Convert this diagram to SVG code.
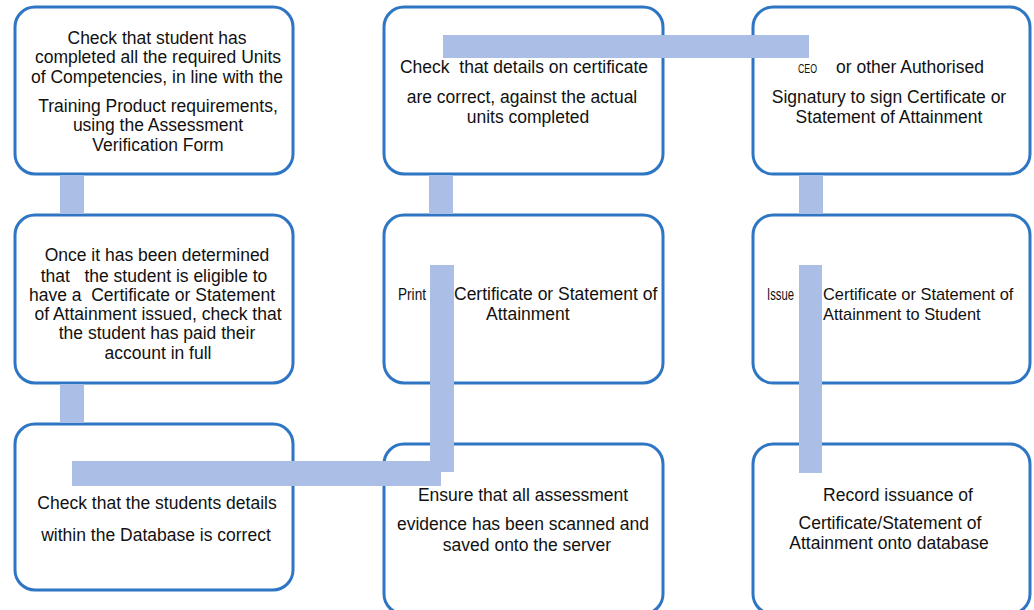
<svg xmlns="http://www.w3.org/2000/svg" width="1034" height="610" viewBox="0 0 1034 610">
<style>
.box{fill:#fff;stroke:#2E75C4;stroke-width:3}
.bar{fill:#AABEE6}
text{font-family:"Liberation Sans",Arial,sans-serif;font-size:17.5px;fill:#111}
.c{text-anchor:middle}
.s6{font-size:16.4px}
</style>
<rect width="1034" height="610" fill="#fff"/>
<g id="n1"><rect class="box" x="15" y="7" width="278" height="167" rx="20"/>
<text class="c" x="157" y="44">Check that student has</text>
<text class="c" x="158" y="63">completed all the required Units</text>
<text class="c" x="157" y="83">of Competencies, in line with the</text>
<text class="c" x="158" y="112">Training Product requirements,</text>
<text class="c" x="158" y="131">using the Assessment</text>
<text class="c" x="158" y="151">Verification Form</text></g>
<g id="n2"><rect class="box" x="384" y="7" width="279" height="167" rx="20"/>
<text class="c" x="524" y="73" xml:space="preserve">Check  that details on certificate</text>
<text class="c" x="522" y="103">are correct, against the actual</text>
<text class="c" x="528" y="123">units completed</text></g>
<g id="n3"><rect class="box" x="753" y="7" width="277" height="167" rx="20"/>
<text x="798" y="73" textLength="19" lengthAdjust="spacingAndGlyphs" style="font-size:13.5px">CEO</text>
<text x="836" y="73">or other Authorised</text>
<text class="c" x="889" y="103">Signatury to sign Certificate or</text>
<text class="c" x="889" y="123">Statement of Attainment</text></g>
<g id="n4"><rect class="box" x="15" y="215" width="278" height="168" rx="20"/>
<text class="c" x="157" y="261">Once it has been determined</text>
<text class="c" x="154" y="282" xml:space="preserve">that   the student is eligible to</text>
<text class="c" x="152" y="301" xml:space="preserve">have a  Certificate or Statement</text>
<text class="c" x="158" y="320">of Attainment issued, check that</text>
<text class="c" x="157" y="339">the student has paid their</text>
<text class="c" x="158" y="359">account in full</text></g>
<g id="n5"><rect class="box" x="384" y="215" width="279" height="168" rx="20"/>
<text x="398" y="300" textLength="28" lengthAdjust="spacingAndGlyphs" style="font-size:16px">Print</text>
<text x="454" y="300">Certificate or Statement of</text>
<text x="486" y="320">Attainment</text></g>
<g id="n6"><rect class="box" x="753" y="215" width="277" height="168" rx="20"/>
<text x="767" y="300" textLength="27" lengthAdjust="spacingAndGlyphs" style="font-size:16px">Issue</text>
<text class="s6" x="823" y="300">Certificate or Statement of</text>
<text class="s6" x="823" y="320">Attainment to Student</text></g>
<g id="n7"><rect class="box" x="15" y="424" width="278" height="166" rx="20"/>
<text class="c" x="157" y="509">Check that the students details</text>
<text class="c" x="156" y="541">within the Database is correct</text></g>
<g id="n8"><rect class="box" x="384" y="444" width="279" height="170" rx="20"/>
<text class="c" x="523" y="501">Ensure that all assessment</text>
<text class="c" x="523" y="530">evidence has been scanned and</text>
<text class="c" x="527" y="551">saved onto the server</text></g>
<g id="n9"><rect class="box" x="753" y="444" width="277" height="170" rx="20"/>
<text class="c" x="898" y="501">Record issuance of</text>
<text class="c" x="890" y="529">Certificate/Statement of</text>
<text class="c" x="889" y="549">Attainment onto database</text></g>
<g id="connectors">
<rect class="bar" x="60" y="175" width="24" height="39"/>
<rect class="bar" x="60" y="384" width="24" height="39"/>
<rect class="bar" x="72" y="461" width="369" height="25"/>
<rect class="bar" x="430" y="265" width="24" height="207"/>
<rect class="bar" x="429" y="175" width="24" height="39"/>
<rect class="bar" x="443" y="35" width="366" height="23"/>
<rect class="bar" x="799" y="175" width="24" height="39"/>
<rect class="bar" x="799" y="265" width="23" height="208"/>
</g>
</svg>
